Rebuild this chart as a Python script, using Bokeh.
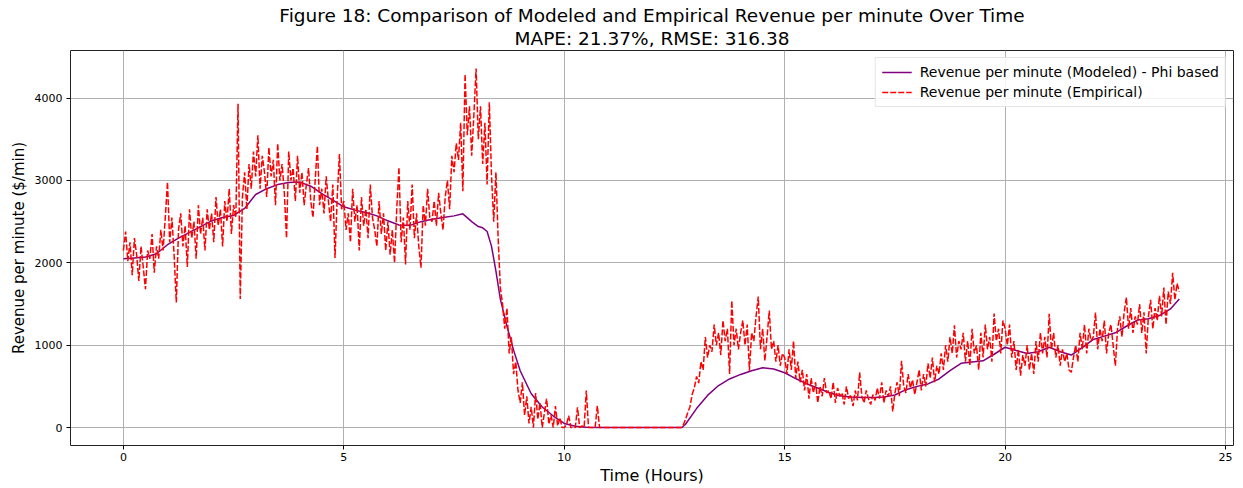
import numpy as np
from bokeh.plotting import figure
from bokeh.models import Range1d, Title, Legend, LegendItem, FixedTicker, ColumnDataSource
from bokeh.embed import file_html
from bokeh.resources import INLINE

# ---------------- data ----------------
title_line1 = "Figure 18: Comparison of Modeled and Empirical Revenue per minute Over Time"
title_line2 = "MAPE: 21.37%, RMSE: 316.38"
x_label = "Time (Hours)"
y_label = "Revenue per minute ($/min)"
legend_modeled = "Revenue per minute (Modeled) - Phi based"
legend_empirical = "Revenue per minute (Empirical)"

x_ticks = [0, 5, 10, 15, 20, 25]
y_ticks = [0, 1000, 2000, 3000, 4000]

# modeled curve (hours, $/min)
model_hours = [
    0.0, 0.25, 0.5, 0.75, 1.0, 1.25, 1.5, 1.75,
    2.0, 2.25, 2.5, 2.75, 3.0, 3.25, 3.5, 3.75,
    4.0, 4.25, 4.5, 4.75, 5.0, 5.25, 5.5, 5.75,
    6.0, 6.25, 6.5, 6.75, 7.0, 7.25, 7.5, 7.7, 7.9,
    8.05, 8.15, 8.25, 8.35, 8.45, 8.55, 8.7, 8.85, 9.0, 9.25, 9.5, 9.75,
    10.0, 10.25, 10.5, 10.75, 11.0, 11.5, 12.0, 12.5, 12.67,
    12.75, 13.0, 13.25, 13.5, 13.75,
    14.0, 14.25, 14.5, 14.75, 15.0, 15.25, 15.5, 15.75,
    16.0, 16.25, 16.5, 16.75, 17.0, 17.25, 17.5, 17.75,
    18.0, 18.25, 18.5, 18.75, 19.0, 19.25, 19.5, 19.75,
    20.0, 20.25, 20.5, 20.75, 21.0, 21.25, 21.5, 21.75,
    22.0, 22.25, 22.5, 22.75, 23.0, 23.25, 23.5, 23.75, 23.95,
]
model_revenue = [
    2050, 2060, 2070, 2110, 2220, 2300, 2370, 2440,
    2510, 2550, 2575, 2660, 2830, 2900, 2950, 2975,
    2980, 2930, 2840, 2760, 2680, 2640, 2610, 2570,
    2510, 2460, 2455, 2500, 2530, 2550, 2570, 2595, 2500,
    2440, 2425, 2380, 2200, 1900, 1560, 1230, 940, 690, 410, 250, 140,
    50, 15, 5, 0, 0, 0, 0, 0, 0,
    40, 230, 390, 510, 590,
    645, 690, 725, 710, 665, 595, 530, 480,
    425, 385, 370, 365, 365, 370, 395, 460,
    500, 530, 590, 690, 780, 795, 810, 890,
    975, 935, 900, 920, 975, 920, 880, 970,
    1070, 1110, 1150, 1230, 1305, 1320, 1360, 1440, 1560,
]

# empirical series, sampled every 0.05 h (20 samples per hour)
emp_step = 0.05
emp_revenue = [
    # hour 0
    2150, 2380, 2020, 2250, 1850, 2300, 2100, 1780, 2200, 1950,
    1680, 2150, 2050, 2350, 1880, 2200, 2050, 2400, 2150, 2550,
    # hour 1
    2980, 2250, 2550, 2100, 1520, 2400, 2600, 2200, 2450, 1950,
    2650, 2300, 2500, 2050, 2700, 2350, 2550, 2150, 2650, 2400,
    # hour 2
    2600, 2250, 2800, 2450, 2650, 2200, 2750, 2500, 2900, 2350,
    2700, 2550, 3930, 1560, 2800, 3100, 2650, 3200, 2900, 3350,
    # hour 3
    3050, 3550, 2900, 3300, 3100, 2800, 3400, 3050, 3250, 2700,
    3450, 3000, 3200, 2850, 2300, 3350, 3000, 3150, 2750, 3300,
    # hour 4
    2850, 3100, 2700, 2950, 3150, 2750, 2550, 3000, 3420, 2700,
    2900, 2600, 3050, 2750, 2500, 2950, 2060, 2800, 3320, 2650,
    # hour 5
    2750, 2400, 2600, 2250, 2900, 2500, 2700, 2150, 2800, 2450,
    2650, 2300, 2950, 2550, 2400, 2200, 2750, 2350, 2600, 2150,
    # hour 6
    2500, 2100, 2400, 2000, 2650, 3160, 2250, 2550, 1980, 2750,
    2400, 2950, 2300, 2600, 2200, 1940, 2700, 2450, 2900, 2550,
    # hour 7
    2500, 2750, 2450, 2850, 2600, 2400, 2800, 3000, 2650, 3300,
    3100, 3450, 3250, 3700, 2870, 4290, 3550, 3900, 3300, 3800,
    # hour 8
    4360, 3500, 3900, 3200, 3700, 2950, 3950, 3050, 2500, 3100,
    2300, 1700, 1500, 1200, 1450, 900, 1100, 650, 800, 450,
    # hour 9
    300, 550, 150, 380, 50, 250, 0, 420, 100, 300,
    0, 180, 350, 40, 150, 0, 260, 20, 120, 0,
    # hour 10
    0, 30, 145, 0, 0, 0, 245, 0, 20, 0,
    450, 0, 0, 0, 0, 265, 0, 0, 0, 0,
    # hour 11
    0, 0, 0, 0, 0, 0, 0, 0, 0, 0,
    0, 0, 0, 0, 0, 0, 0, 0, 0, 0,
    # hour 12
    0, 0, 0, 0, 0, 0, 0, 0, 0, 0,
    0, 0, 0, 0, 30, 100, 180, 250, 400, 480,
    # hour 13
    620, 540, 800, 700, 1100, 850, 1000, 920, 1250, 1000,
    1150, 880, 1300, 1050, 1200, 650, 1540, 1000, 1200, 950,
    # hour 14
    1150, 1300, 1000, 1250, 690, 1150, 1050, 1350, 1590, 950,
    1200, 810, 1100, 1420, 950, 1050, 800, 1000, 750, 900,
    # hour 15
    850, 650, 950, 700, 1050, 600, 800, 550, 700, 450,
    650, 350, 600, 420, 550, 300, 500, 380, 600, 420,
    # hour 16
    450, 350, 550, 300, 480, 380, 420, 280, 500, 350,
    400, 260, 450, 330, 670, 380, 300, 450, 350, 280,
    # hour 17
    400, 330, 480, 350, 550, 300, 450, 380, 500, 195,
    420, 550, 380, 810, 500, 420, 650, 480, 580, 400,
    # hour 18
    550, 700, 450, 650, 500, 780, 600, 850, 550, 750,
    650, 900, 700, 1000, 800, 1100, 900, 1240, 850, 1050,
    # hour 19
    950, 1150, 800, 1050, 750, 1200, 900, 1000, 700, 1150,
    850, 1250, 950, 1100, 800, 1385, 1050, 1200, 900, 1300,
    # hour 20
    1200, 1000, 1250, 850, 1050, 700, 950, 630, 880, 750,
    1000, 700, 900, 650, 1050, 800, 1150, 900, 1100, 850,
    # hour 21
    1380, 950, 1150, 850, 1000, 750, 950, 800, 900, 700,
    670, 850, 1000, 800, 1150, 950, 1250, 900, 1200, 1050,
    # hour 22
    1100, 1395, 950, 1200, 1050, 1300, 900, 1150, 1250, 1000,
    750, 1200, 1350, 1100, 1400, 1580, 1200, 1450, 1150, 1350,
    # hour 23
    1250, 1500, 1150, 1400, 900, 1350, 1550, 1200, 1450, 1300,
    1600, 1350, 1700, 1250, 1650, 1500, 1880, 1550, 1750, 1650,
]
emp_hours = [i * emp_step for i in range(len(emp_revenue))]

# ---------------- figure ----------------
FONT = "DejaVu Sans"

p = figure(
    width=1243, height=488,
    x_range=Range1d(-1.2, 25.18), y_range=Range1d(-218, 4578),
    output_backend="svg", toolbar_location=None, title=None,
    min_border_left=70, min_border_right=10, min_border_top=50, min_border_bottom=43,
)
p.background_fill_color = "white"
p.border_fill_color = "white"
p.outline_line_color = "#222222"
p.outline_line_width = 1

# two-line title: the subtitle is added first so that it sits next to the frame
p.add_layout(Title(text=title_line2, align="center", text_font=FONT,
                   text_font_size="18.5px", text_font_style="normal",
                   text_color="black", standoff=4, offset=0), "above")
p.add_layout(Title(text=title_line1, align="center", text_font=FONT,
                   text_font_size="18.5px", text_font_style="normal",
                   text_color="black", standoff=-4, offset=0), "above")

src_m = ColumnDataSource(dict(x=model_hours, y=model_revenue))
src_e = ColumnDataSource(dict(x=emp_hours, y=emp_revenue))
r_m = p.line("x", "y", source=src_m, line_color="#800080", line_width=1.5)
r_e = p.line("x", "y", source=src_e, line_color="#ff0000", line_width=1.5,
             line_dash="6 2")

for ax in (p.xaxis[0], p.yaxis[0]):
    ax.major_tick_in = 0
    ax.major_tick_out = 4
    ax.minor_tick_in = 0
    ax.minor_tick_out = 0
    ax.major_label_text_font = FONT
    ax.major_label_text_font_size = "11px"
    ax.major_label_text_color = "black"
    ax.axis_label_text_font = FONT
    ax.axis_label_text_font_style = "normal"
    ax.axis_label_text_color = "black"
    ax.axis_line_color = None
    ax.major_tick_line_color = "black"

p.xaxis.ticker = FixedTicker(ticks=x_ticks)
p.yaxis.ticker = FixedTicker(ticks=y_ticks)
p.xaxis.axis_label = x_label
p.yaxis.axis_label = y_label
p.xaxis.axis_label_text_font_size = "16px"
p.yaxis.axis_label_text_font_size = "15px"
p.xaxis.major_label_standoff = 3
p.xaxis.axis_label_standoff = 2
p.yaxis.major_label_standoff = 4
p.yaxis.axis_label_standoff = 4

p.xgrid.ticker = FixedTicker(ticks=x_ticks)
p.ygrid.ticker = FixedTicker(ticks=y_ticks)
p.grid.grid_line_color = "#b0b0b0"
p.grid.grid_line_width = 1

legend = Legend(items=[
    LegendItem(label=legend_modeled, renderers=[r_m]),
    LegendItem(label=legend_empirical, renderers=[r_e]),
], location="top_right")
legend.label_text_font = FONT
legend.label_text_font_size = "14px"
legend.label_text_color = "black"
legend.glyph_width = 30
legend.glyph_height = 16
legend.label_standoff = 8
legend.spacing = 4
legend.padding = 6
legend.margin = 7
legend.border_line_color = "#cccccc"
legend.border_line_width = 1
legend.background_fill_alpha = 0.85
p.add_layout(legend)

open("out.html", "w").write(file_html(p, INLINE))
